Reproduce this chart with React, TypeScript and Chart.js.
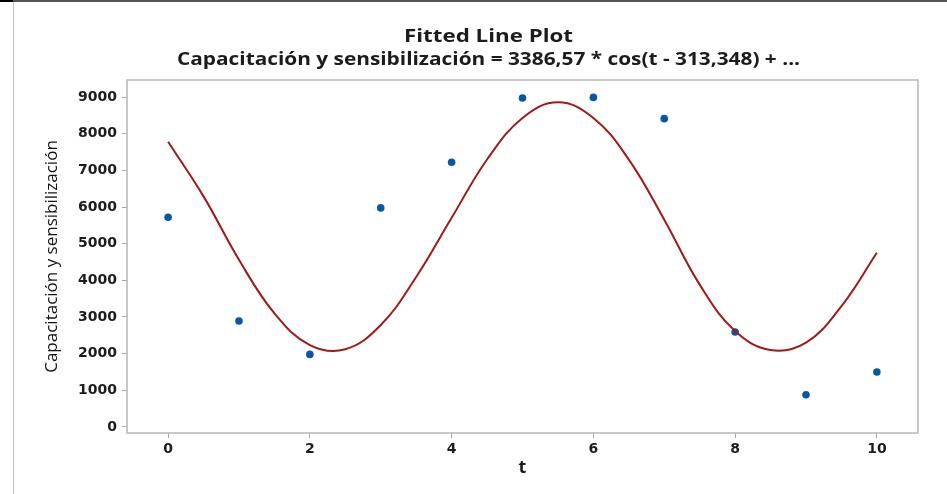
import React, { useEffect, useRef } from "react";
import { Chart, registerables } from "chart.js";

Chart.register(...registerables);

const tValues = [0, 1, 2, 3, 4, 5, 6, 7, 8, 9, 10];
const observed = [5720, 2890, 1980, 5975, 7220, 8975, 8990, 8410, 2590, 880, 1500];

const fitT = [0, 0.5, 1, 1.5, 2, 2.5, 3, 3.5, 4, 4.5, 5, 5.5, 6, 6.5, 7, 7.5, 8, 8.5, 9, 9.5, 10];
const fitValues = [7780, 6290, 4560, 3100, 2235, 2120, 2780, 4090, 5705, 7295, 8430, 8856, 8430, 7294, 5654, 3883, 2616, 2100, 2300, 3297, 4752];

const xTicks = [0, 2, 4, 6, 8, 10];
const yTicks = [0, 1000, 2000, 3000, 4000, 5000, 6000, 7000, 8000, 9000];

const titleText = "Fitted Line Plot";
const subtitleText = "Capacitación y sensibilización = 3386,57 * cos(t - 313,348) + ...";
const yTitle = "Capacitación y sensibilización";
const xTitle = "t";

const FONT = "'Open Sans', 'Noto Sans', sans-serif";
const TICK_FONT = "'DejaVu Sans', 'Open Sans', sans-serif";

function drawStretched(ctx: CanvasRenderingContext2D, text: string, cx: number, y: number, font: string, width: number) {
  ctx.font = font;
  const w = ctx.measureText(text).width;
  const s = width / w;
  ctx.save();
  ctx.translate(cx, y);
  ctx.scale(s, 1);
  ctx.textAlign = "center";
  ctx.textBaseline = "alphabetic";
  ctx.fillText(text, 0, 0);
  ctx.restore();
}

const titlePlugin = {
  id: "stretchedTitles",
  afterDraw(chart: any) {
    const { ctx } = chart;
    ctx.save();
    ctx.fillStyle = "#1c1c1c";
    drawStretched(ctx, titleText, 488.5, 41.5, `bold 18px ${FONT}`, 169);
    drawStretched(ctx, subtitleText, 488.5, 65, `bold 18px ${FONT}`, 623);
    ctx.restore();
  },
};

const framePlugin = {
  id: "frame",
  afterDraw(chart: any) {
    const { ctx, chartArea } = chart;
    ctx.save();
    ctx.strokeStyle = "#b7b7b7";
    ctx.lineWidth = 1.5;
    ctx.strokeRect(chartArea.left, chartArea.top, chartArea.right - chartArea.left, chartArea.bottom - chartArea.top);
    ctx.restore();
  },
};

export default function App() {
  const ref = useRef<HTMLCanvasElement | null>(null);

  useEffect(() => {
    document.body.style.margin = "0";
    const canvas = ref.current;
    if (!canvas) return;
    const chart = new Chart(canvas, {
      type: "scatter",
      data: {
        datasets: [
          {
            type: "line",
            label: "Fit",
            data: fitT.map((t, i) => ({ x: t, y: fitValues[i] })),
            borderColor: "#9e1a1a",
            borderWidth: 2,
            pointRadius: 0,
            tension: 0.4,
            fill: false,
          } as any,
          {
            label: "Observed",
            data: tValues.map((t, i) => ({ x: t, y: observed[i] })),
            backgroundColor: "#0757a6",
            borderColor: "#0757a6",
            pointRadius: 3.8,
            pointBorderWidth: 0,
          },
        ],
      },
      options: {
        animation: false,
        responsive: false,
        layout: { padding: { left: 0, right: 29, top: 80, bottom: 0 } },
        plugins: {
          legend: { display: false },
          tooltip: { enabled: false },
          title: { display: false },
          subtitle: { display: false },
        },
        scales: {
          x: {
            type: "linear",
            min: -0.58,
            max: 10.58,
            afterBuildTicks: (scale: any) => {
              scale.ticks = xTicks.map((v) => ({ value: v }));
            },
            afterFit: (scale: any) => {
              scale.height = 61;
            },
            grid: { drawOnChartArea: false, drawTicks: true, tickLength: 5, color: "#a8a8a8" },
            border: { display: false },
            ticks: {
              color: "#1c1c1c",
              font: { family: TICK_FONT, size: 14, weight: "bold" },
              padding: 3,
              maxRotation: 0,
              callback: (v: any) => String(v),
            },
            title: {
              display: true,
              text: xTitle,
              color: "#1c1c1c",
              font: { family: FONT, size: 18, weight: "bold", lineHeight: 1.2 },
              padding: { top: 0, bottom: 15 },
            },
          },
          y: {
            type: "linear",
            min: -164,
            max: 9464,
            afterBuildTicks: (scale: any) => {
              scale.ticks = yTicks.map((v) => ({ value: v }));
            },
            afterFit: (scale: any) => {
              scale.width = 127;
            },
            grid: { drawOnChartArea: false, drawTicks: true, tickLength: 5, color: "#a8a8a8" },
            border: { display: false },
            ticks: {
              color: "#1c1c1c",
              font: { family: TICK_FONT, size: 14, weight: "bold" },
              padding: 5,
              callback: (v: any) => String(v),
            },
            title: {
              display: true,
              text: yTitle,
              color: "#111",
              font: { family: FONT, size: 17, weight: "normal", lineHeight: 1.2 },
              padding: { top: 42, bottom: 0 },
            },
          },
        },
      },
      plugins: [framePlugin, titlePlugin],
    });
    return () => chart.destroy();
  }, []);

  return (
    <div style={{ position: "relative", width: 947, height: 494, background: "#fff", overflow: "hidden" }}>
      <canvas ref={ref} width={947} height={494} style={{ position: "absolute", left: 0, top: 0, width: 947, height: 494 }} />
      <div style={{ position: "absolute", left: 13, top: 0, width: 1, height: 494, background: "#c4c4c4" }} />
      <div style={{ position: "absolute", left: 13, top: 0, width: 934, height: 2, background: "#555" }} />
      <div style={{ position: "absolute", left: 0, top: 0, width: 13, height: 2, background: "#000" }} />
    </div>
  );
}
